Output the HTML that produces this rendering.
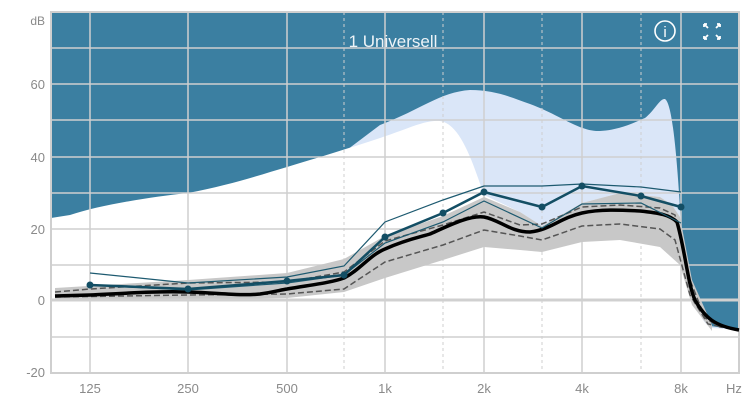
<!DOCTYPE html>
<html><head><style>
html,body{margin:0;padding:0;background:#fff;}
svg{display:block;font-family:"Liberation Sans",sans-serif;}
</style></head><body>
<svg width="749" height="403" viewBox="0 0 749 403" xmlns="http://www.w3.org/2000/svg">
<rect x="51" y="12" width="688" height="361" fill="#3b7fa1"/>
<!-- light blue region -->
<path d="M380,125 C420,110 440,92 470,90 C495,90 510,97 530,104 C560,115 580,132 600,131 C620,130 635,122 645,118 C655,110 660,98 665,99 C675,105 680,200 685,300 L710,326 L739,330 L739,373 L51,373 Z" fill="#dae6f8"/>
<!-- white region -->
<path d="M51,218 L70,215 C100,205 150,197 188,193 C230,185 260,175 287,167 C320,157 350,148 380,138 C410,128 425,120 440,121 C460,124 472,160 484,195 L520,212 L542,226 L582,203 L620,193 L660,197 L672,205 L680,217 L690,290 C700,318 705,325 712,328 L739,330 L739,373 L51,373 Z" fill="#fff"/>
<!-- grid -->
<g stroke="#cfcfcf" stroke-width="1.5">
<line x1="51" y1="48" x2="739" y2="48"/><line x1="51" y1="84" x2="739" y2="84"/>
<line x1="51" y1="120" x2="739" y2="120"/><line x1="51" y1="157" x2="739" y2="157"/>
<line x1="51" y1="193" x2="739" y2="193"/><line x1="51" y1="229" x2="739" y2="229"/>
<line x1="51" y1="265" x2="739" y2="265"/><line x1="51" y1="337" x2="739" y2="337"/>
<line x1="90" y1="12" x2="90" y2="373"/><line x1="188" y1="12" x2="188" y2="373"/>
<line x1="287" y1="12" x2="287" y2="373"/><line x1="385" y1="12" x2="385" y2="373"/>
<line x1="484" y1="12" x2="484" y2="373"/><line x1="582" y1="12" x2="582" y2="373"/>
<line x1="681" y1="12" x2="681" y2="373"/>
</g>
<g stroke="#cfcfcf" stroke-width="1" stroke-dasharray="3,3">
<line x1="344" y1="12" x2="344" y2="373"/><line x1="443" y1="12" x2="443" y2="373"/>
<line x1="542" y1="12" x2="542" y2="373"/><line x1="641" y1="12" x2="641" y2="373"/>
</g>
<rect x="51" y="12" width="688" height="361" fill="none" stroke="#cfcfcf" stroke-width="2"/>
<!-- gray band -->
<path d="M55,288 L188,280 L287,273 L344,259 L385,236 L443,216 L484,197 L520,212 L542,226 L582,203 L620,193 L660,197 L672,205 L680,217 L692,280 L712,325 L712,331 L692,305 L680,265 L660,247 L620,240 L582,242 L542,252 L520,250 L484,247 L443,260 L385,278 L344,292 L287,298 L188,300 L55,300 Z" fill="#c8c8c8"/>
<line x1="51" y1="300" x2="739" y2="300" stroke="#d0d0d0" stroke-width="3"/>
<!-- dashed lines -->
<polyline fill="none" stroke="#555" stroke-width="1.5" stroke-dasharray="6,3" points="55,292 90,289 188,283 287,282 344,272 385,241 443,225 484,212 520,225 542,224 582,207 620,205 660,208 675,215 690,280 705,318 720,327 739,330"/>
<polyline fill="none" stroke="#555" stroke-width="1.5" stroke-dasharray="6,3" points="55,297 188,295 287,294 344,289 385,262 443,245 484,230 520,236 542,240 582,226 620,224 660,229 675,240 690,295 708,324 739,330"/>
<!-- black -->
<path d="M55,296 L90,295 C130,293 160,291 188,292 C220,293 240,296 260,294 C275,292 280,290 287,289 C310,285 330,283 344,278 C360,270 370,255 385,249 C405,240 420,237 430,234 C450,225 470,215 484,217 C500,220 510,232 530,232 C550,230 560,218 582,213 C600,209 620,210 640,211 C660,213 670,215 677,222 C685,250 688,285 695,300 C705,318 715,326 739,330" fill="none" stroke="#000" stroke-width="3.5"/>
<!-- teal thin -->
<polyline fill="none" stroke="#1d5a70" stroke-width="1.2" points="90,273 188,283 287,277 344,266 385,222 443,200 484,186 542,186 582,184 641,187 681,192"/>
<polyline fill="none" stroke="#1d5a70" stroke-width="1.2" points="90,285 188,290 287,283 344,275 385,243 443,222 484,201 542,228 582,204 641,203 681,223"/>
<!-- teal thick -->
<polyline fill="none" stroke="#134e64" stroke-width="2.5" points="90,285 188,289 287,281 344,275 385,237 443,213 484,192 542,207 582,186 641,196 681,207"/>
<g fill="#134e64">
<circle cx="90" cy="285" r="3.5"/><circle cx="188" cy="289" r="3.5"/><circle cx="287" cy="281" r="3.5"/>
<circle cx="344" cy="275" r="3.5"/><circle cx="385" cy="237" r="3.5"/><circle cx="443" cy="213" r="3.5"/>
<circle cx="484" cy="192" r="3.5"/><circle cx="542" cy="207" r="3.5"/><circle cx="582" cy="186" r="3.5"/>
<circle cx="641" cy="196" r="3.5"/><circle cx="681" cy="207" r="3.5"/>
</g>
<!-- title & icons -->
<text x="393" y="47" fill="#eef4f8" font-size="17" text-anchor="middle">1 Universell</text>
<circle cx="665" cy="31" r="10" fill="none" stroke="#fff" stroke-width="1.6"/>
<text x="665" y="37" fill="#fff" font-size="15" text-anchor="middle">i</text>
<g stroke="#fff" stroke-width="1.8" fill="none">
<path d="M704,24 L708,28 M704,24 h3 M704,24 v3"/>
<path d="M720,24 L716,28 M720,24 h-3 M720,24 v3"/>
<path d="M704,39 L708,35 M704,39 h3 M704,39 v-3"/>
<path d="M720,39 L716,35 M720,39 h-3 M720,39 v-3"/>
</g>
<!-- axis labels -->
<g fill="#8a8a8a" font-size="13">
<text x="45" y="25" text-anchor="end" font-size="12">dB</text>
<text x="45" y="89" text-anchor="end">60</text>
<text x="45" y="162" text-anchor="end">40</text>
<text x="45" y="234" text-anchor="end">20</text>
<text x="45" y="305" text-anchor="end">0</text>
<text x="45" y="377" text-anchor="end">-20</text>
<text x="90" y="393" text-anchor="middle">125</text>
<text x="188" y="393" text-anchor="middle">250</text>
<text x="287" y="393" text-anchor="middle">500</text>
<text x="385" y="393" text-anchor="middle">1k</text>
<text x="484" y="393" text-anchor="middle">2k</text>
<text x="582" y="393" text-anchor="middle">4k</text>
<text x="681" y="393" text-anchor="middle">8k</text>
<text x="734" y="393" text-anchor="middle">Hz</text>
</g>
</svg>
</body></html>
